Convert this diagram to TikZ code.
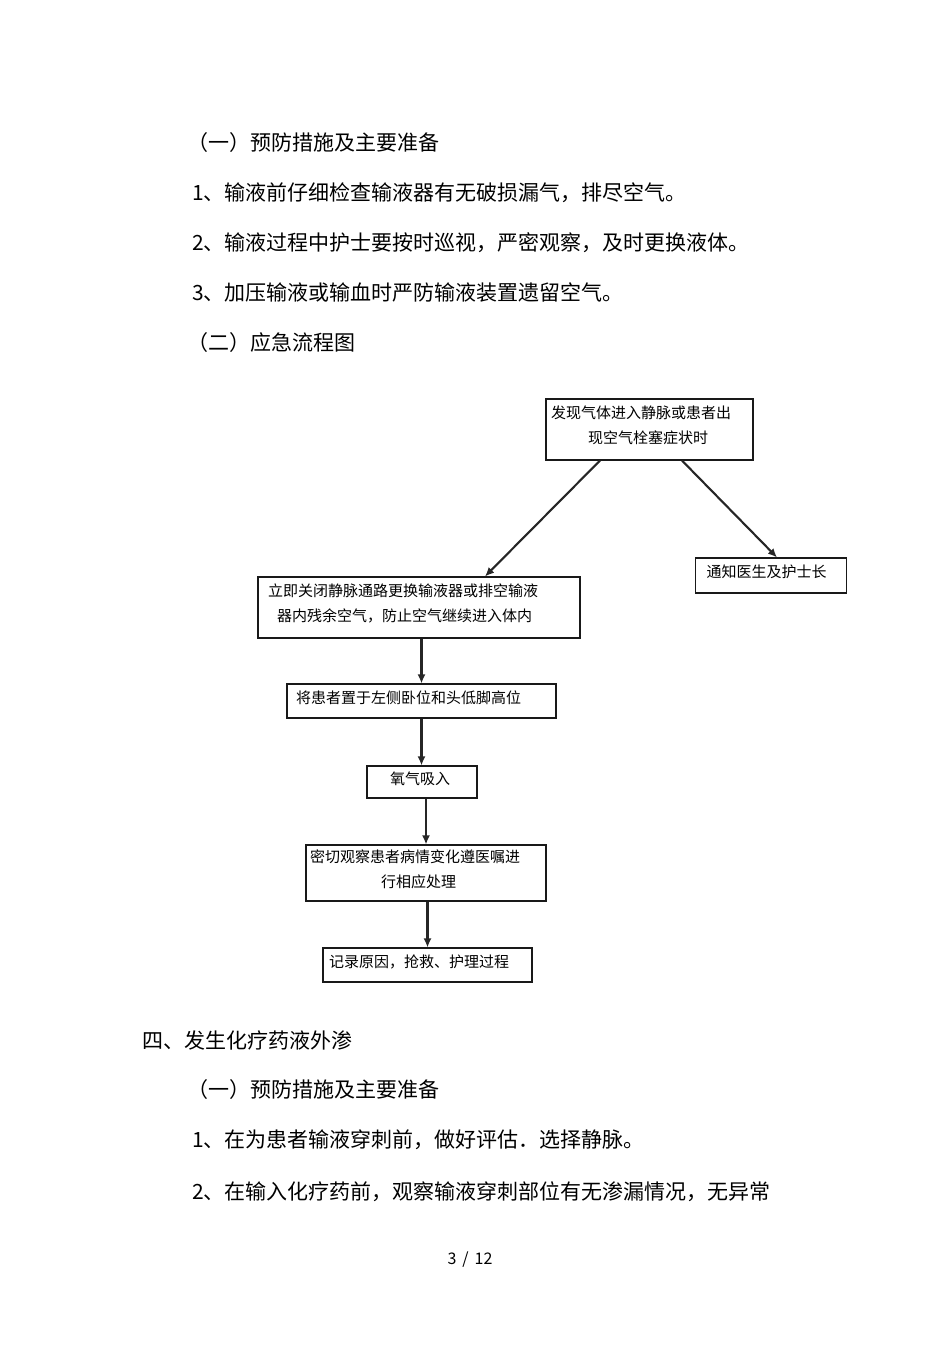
\documentclass[tikz,border=0pt]{standalone}
\usepackage{fontspec}
\setmainfont{Noto Sans CJK SC}
\usetikzlibrary{arrows.meta,calc}

\tikzset{
  para/.style={anchor=west, inner sep=0pt, font=\fontsize{21}{26}\selectfont},
  box/.style={draw=black!90, line width=1.1pt, inner ysep=0pt, align=left, text depth=8pt, font=\fontsize{15}{25}\selectfont},
  twoline/.style={text depth=34pt},
  arr/.style={draw=black!85, line width=2.1pt, -{Latex[length=9pt,width=8pt]}}
}

\begin{document}
\begin{tikzpicture}[x=1pt, y=-1pt]
        \useasboundingbox (0,0) rectangle (950,1345);
        % text before the chart
        \node[para] (prevhead) at (187,143) {（一）预防措施及主要准备};
        \node[para] (prevone) at (192,193) {1、输液前仔细检查输液器有无破损漏气，排尽空气。};
        \node[para] (prevtwo) at (192,243) {2、输液过程中护士要按时巡视，严密观察，及时更换液体。};
        \node[para] (prevthree) at (192,293) {3、加压输液或输血时严防输液装置遗留空气。};
        \node[para] (charthead) at (187,343) {（二）应急流程图};
        % flow chart
        \node[box, twoline, text width=197pt, inner xsep=5pt, minimum height=61pt] (found) at (649.5,429.5)
        {发现气体进入静脉或患者出\\\hspace*{37pt}现空气栓塞症状时};
        \node[box, text width=129pt, inner xsep=11pt, minimum height=35pt] (notify) at (771,575.5)
        {通知医生及护士长};
        \node[box, twoline, text width=302pt, inner xsep=10pt, minimum height=61pt] (close) at (419,607.5)
        {立即关闭静脉通路更换输液器或排空输液\\\hspace*{9pt}器内残余空气，防止空气继续进入体内};
        \node[box, text width=251pt, inner xsep=9pt, minimum height=34pt] (posture) at (421.5,701)
        {将患者置于左侧卧位和头低脚高位};
        \node[box, text width=88pt, inner xsep=11pt, minimum height=32pt] (oxygen) at (422,782)
        {\hspace*{12pt}氧气吸入};
        \node[box, twoline, text width=232pt, inner xsep=4pt, minimum height=56pt] (watch) at (426,873)
        {密切观察患者病情变化遵医嘱进\\\hspace*{71pt}行相应处理};
        \node[box, text width=197pt, inner xsep=6pt, minimum height=34pt] (record) at (427.5,965)
        {记录原因，抢救、护理过程};
        \draw[arr] ($(found.south)+(-49.5,0)$) -- ($(close.north)+(66,0)$);
        \draw[arr] ($(found.south)+(32.5,0)$) -- ($(notify.north)+(6,0)$);
        \draw[arr] (close.south -| posture.north) -- (posture.north);
        \draw[arr] (posture.south) -- (posture.south |- oxygen.north);
        \draw[arr] (oxygen.south -| watch.north) -- (watch.north);
        \draw[arr] (watch.south -| record.north) -- (record.north);
        % text after the chart
        \node[para] (nexthead) at (142,1040) {四、发生化疗药液外渗};
        \node[para] (nextsub) at (187,1090) {（一）预防措施及主要准备};
        \node[para] (nextone) at (192,1140) {1、在为患者输液穿刺前，做好评估．选择静脉。};
        \node[para] (nexttwo) at (192,1192) {2、在输入化疗药前，观察输液穿刺部位有无渗漏情况，无异常};
        \node[inner sep=0pt, font=\fontsize{16}{19}\selectfont] (pageno) at (470,1260) {3\hspace{6pt}/\hspace{6pt}12};
\end{tikzpicture}
\end{document}
